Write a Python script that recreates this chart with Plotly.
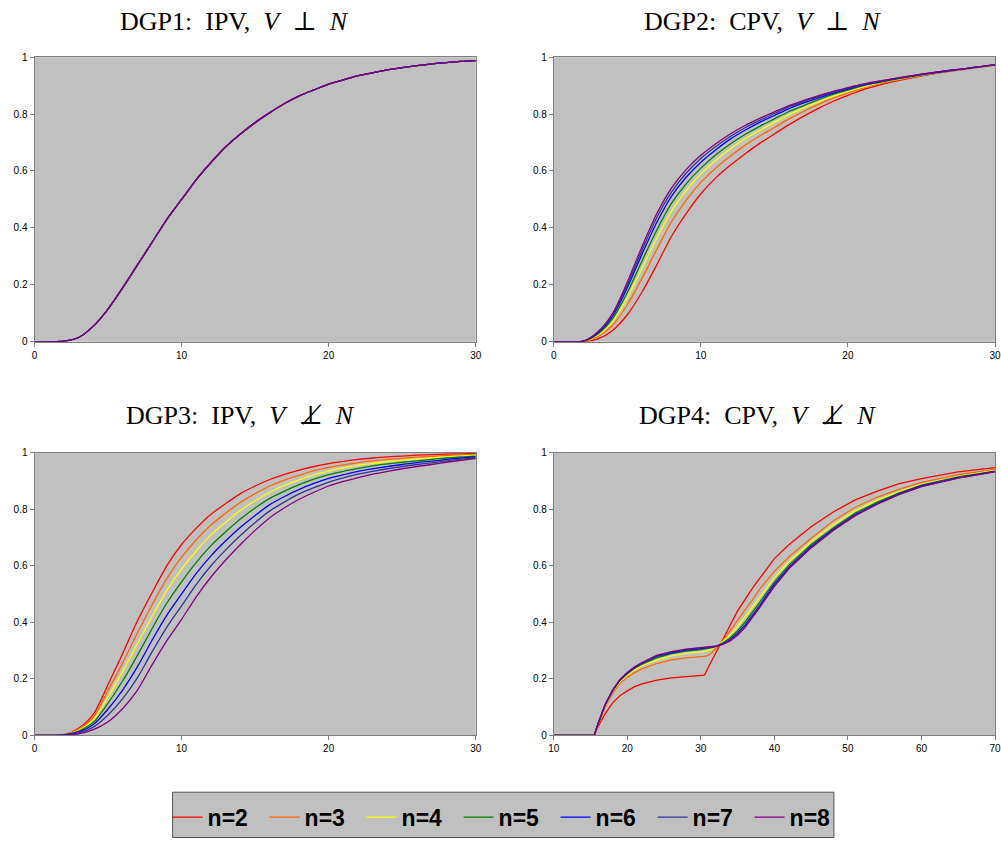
import plotly.graph_objects as go

labels = ["n=2", "n=3", "n=4", "n=5", "n=6", "n=7", "n=8"]
colors = ["#FF0000", "#FF6600", "#FFFF00", "#008000", "#0000FF", "#333399", "#800080"]

titles = [
    "DGP1:  IPV,  <i>V</i>  \u22A5  <i>N</i>",
    "DGP2:  CPV,  <i>V</i>  \u22A5  <i>N</i>",
    "DGP3:  IPV,  <i>V</i>  \u22A5\u0338  <i>N</i>",
    "DGP4:  CPV,  <i>V</i>  \u22A5\u0338  <i>N</i>",
]

# ---- x grid for DGP1-3 ----
x_grid = list(range(31))

# DGP1: all n identical
dgp1 = [0, 0, 0.002, 0.015, 0.055, 0.115, 0.19, 0.27, 0.35, 0.43, 0.5, 0.57, 0.63, 0.685, 0.73,
        0.77, 0.805, 0.837, 0.864, 0.885, 0.905, 0.92, 0.935, 0.945, 0.955, 0.963, 0.97, 0.976,
        0.981, 0.985, 0.988]

# DGP2
dgp2_n2 = [0, 0, 0, 0.01, 0.04, 0.095, 0.175, 0.27, 0.37, 0.45, 0.52, 0.575, 0.62, 0.66, 0.697, 0.73,
           0.763, 0.793, 0.82, 0.845, 0.866, 0.885, 0.9, 0.913, 0.924, 0.934, 0.943, 0.951, 0.958, 0.965, 0.972]
dgp2_n3 = [0, 0, 0.001, 0.018, 0.058, 0.13, 0.223, 0.324, 0.421, 0.497, 0.56, 0.61, 0.652, 0.69, 0.723, 0.753,
           0.783, 0.81, 0.834, 0.856, 0.874, 0.891, 0.905, 0.916, 0.926, 0.936, 0.944, 0.952, 0.959, 0.966, 0.972]
dgp2_n4 = [0, 0, 0.001, 0.023, 0.071, 0.155, 0.258, 0.364, 0.458, 0.531, 0.59, 0.637, 0.677, 0.713, 0.743, 0.771,
           0.798, 0.822, 0.843, 0.863, 0.88, 0.895, 0.908, 0.919, 0.928, 0.937, 0.945, 0.953, 0.959, 0.966, 0.972]
dgp2_n5 = [0, 0, 0.001, 0.027, 0.081, 0.173, 0.284, 0.392, 0.486, 0.555, 0.61, 0.656, 0.695, 0.728, 0.757, 0.783,
           0.809, 0.83, 0.851, 0.869, 0.884, 0.899, 0.91, 0.92, 0.929, 0.938, 0.946, 0.953, 0.959, 0.966, 0.972]
dgp2_n6 = [0, 0, 0.002, 0.031, 0.09, 0.19, 0.308, 0.419, 0.511, 0.578, 0.631, 0.674, 0.712, 0.743, 0.771, 0.795,
           0.819, 0.839, 0.857, 0.874, 0.888, 0.902, 0.912, 0.922, 0.931, 0.939, 0.946, 0.953, 0.96, 0.967, 0.973]
dgp2_n7 = [0, 0, 0.002, 0.033, 0.095, 0.2, 0.322, 0.436, 0.526, 0.592, 0.644, 0.685, 0.721, 0.752, 0.778, 0.802,
           0.825, 0.844, 0.861, 0.877, 0.891, 0.903, 0.914, 0.923, 0.931, 0.94, 0.947, 0.954, 0.96, 0.967, 0.973]
dgp2_n8 = [0, 0, 0.002, 0.035, 0.1, 0.21, 0.335, 0.45, 0.54, 0.605, 0.655, 0.695, 0.73, 0.76, 0.785, 0.808,
           0.83, 0.848, 0.865, 0.88, 0.893, 0.905, 0.915, 0.924, 0.932, 0.94, 0.947, 0.954, 0.96, 0.967, 0.973]

# DGP3
dgp3_n2 = [0, 0, 0.002, 0.025, 0.075, 0.18, 0.29, 0.405, 0.505, 0.6, 0.675, 0.733, 0.782, 0.82, 0.855, 0.882,
           0.905, 0.923, 0.938, 0.951, 0.961, 0.969, 0.976, 0.981, 0.985, 0.988, 0.991, 0.993, 0.995, 0.996, 0.997]
dgp3_n3 = [0, 0, 0.002, 0.022, 0.064, 0.158, 0.257, 0.363, 0.462, 0.555, 0.63, 0.692, 0.744, 0.786, 0.824, 0.855,
           0.882, 0.903, 0.92, 0.936, 0.948, 0.957, 0.965, 0.971, 0.976, 0.98, 0.984, 0.987, 0.99, 0.992, 0.994]
dgp3_n4 = [0, 0, 0.001, 0.018, 0.055, 0.136, 0.226, 0.324, 0.421, 0.513, 0.588, 0.653, 0.709, 0.754, 0.796, 0.83,
           0.86, 0.884, 0.904, 0.921, 0.935, 0.946, 0.955, 0.962, 0.968, 0.973, 0.978, 0.981, 0.985, 0.988, 0.991]
dgp3_n5 = [0, 0, 0.001, 0.015, 0.046, 0.114, 0.193, 0.283, 0.378, 0.468, 0.543, 0.612, 0.671, 0.72, 0.765, 0.804,
           0.838, 0.864, 0.887, 0.906, 0.922, 0.934, 0.944, 0.953, 0.96, 0.966, 0.971, 0.976, 0.981, 0.985, 0.988]
dgp3_n6 = [0, 0, 0.001, 0.012, 0.038, 0.093, 0.161, 0.243, 0.337, 0.425, 0.5, 0.573, 0.635, 0.688, 0.736, 0.778,
           0.816, 0.845, 0.87, 0.891, 0.909, 0.922, 0.934, 0.943, 0.951, 0.958, 0.965, 0.97, 0.976, 0.981, 0.985]
dgp3_n7 = [0, 0, 0, 0.009, 0.029, 0.072, 0.13, 0.204, 0.296, 0.383, 0.458, 0.534, 0.6, 0.656, 0.707, 0.753,
           0.794, 0.826, 0.854, 0.876, 0.896, 0.911, 0.924, 0.934, 0.943, 0.951, 0.958, 0.964, 0.971, 0.977, 0.982]
dgp3_n8 = [0, 0, 0, 0.005, 0.02, 0.048, 0.095, 0.16, 0.25, 0.335, 0.41, 0.49, 0.56, 0.62, 0.675, 0.725,
           0.77, 0.805, 0.835, 0.86, 0.882, 0.898, 0.912, 0.924, 0.934, 0.943, 0.951, 0.958, 0.966, 0.973, 0.979]

# DGP4
x4 = [10, 15.5, 16, 16.5, 17, 18, 19, 20, 21, 22,
      24, 26, 28, 30, 30.5, 31, 31.5, 32, 32.5, 33,
      34, 35, 36, 37, 38, 40, 42, 45, 48, 51,
      54, 57, 60, 65, 70]
dgp4_n2 = [0, 0, 0.03, 0.055, 0.077, 0.115, 0.14, 0.157, 0.172, 0.182,
           0.195, 0.203, 0.208, 0.212, 0.213, 0.24, 0.266, 0.293, 0.319, 0.34,
           0.39, 0.44, 0.48, 0.52, 0.555, 0.625, 0.675, 0.738, 0.79, 0.833,
           0.864, 0.89, 0.908, 0.932, 0.947]
dgp4_n3 = [0, 0, 0.035, 0.068, 0.1, 0.148, 0.184, 0.205, 0.222, 0.235,
           0.254, 0.267, 0.274, 0.278, 0.279, 0.283, 0.292, 0.306, 0.32, 0.336,
           0.37, 0.408, 0.444, 0.478, 0.517, 0.58, 0.632, 0.697, 0.758, 0.807,
           0.843, 0.871, 0.895, 0.922, 0.941]
dgp4_n4 = [0, 0, 0.038, 0.074, 0.106, 0.155, 0.19, 0.213, 0.232, 0.246,
           0.266, 0.281, 0.29, 0.295, 0.297, 0.3, 0.306, 0.313, 0.322, 0.332,
           0.355, 0.385, 0.418, 0.452, 0.488, 0.558, 0.615, 0.685, 0.745, 0.795,
           0.832, 0.862, 0.888, 0.916, 0.937]
dgp4_n5 = [0, 0, 0.039, 0.076, 0.108, 0.157, 0.194, 0.218, 0.237, 0.252,
           0.274, 0.289, 0.298, 0.303, 0.305, 0.307, 0.31, 0.314, 0.32, 0.327,
           0.345, 0.37, 0.4, 0.434, 0.47, 0.543, 0.603, 0.675, 0.733, 0.786,
           0.825, 0.858, 0.885, 0.914, 0.935]
dgp4_n6 = [0, 0, 0.04, 0.077, 0.109, 0.158, 0.196, 0.22, 0.24, 0.255,
           0.279, 0.292, 0.301, 0.307, 0.308, 0.31, 0.312, 0.315, 0.319, 0.324,
           0.34, 0.362, 0.39, 0.424, 0.46, 0.535, 0.596, 0.669, 0.729, 0.781,
           0.821, 0.855, 0.883, 0.912, 0.934]
dgp4_n7 = [0, 0, 0.04, 0.078, 0.11, 0.159, 0.197, 0.221, 0.241, 0.256,
           0.281, 0.294, 0.303, 0.309, 0.31, 0.311, 0.313, 0.315, 0.318, 0.323,
           0.337, 0.358, 0.386, 0.42, 0.456, 0.53, 0.593, 0.666, 0.727, 0.779,
           0.82, 0.853, 0.881, 0.911, 0.933]
dgp4_n8 = [0, 0, 0.04, 0.078, 0.11, 0.16, 0.198, 0.222, 0.242, 0.257,
           0.283, 0.296, 0.305, 0.31, 0.311, 0.312, 0.313, 0.315, 0.318, 0.322,
           0.334, 0.354, 0.381, 0.415, 0.452, 0.527, 0.59, 0.663, 0.725, 0.777,
           0.818, 0.852, 0.88, 0.91, 0.932]

panels = [
    (x_grid, [dgp1] * 7, "spline"),
    (x_grid, [dgp2_n2, dgp2_n3, dgp2_n4, dgp2_n5, dgp2_n6, dgp2_n7, dgp2_n8], "spline"),
    (x_grid, [dgp3_n2, dgp3_n3, dgp3_n4, dgp3_n5, dgp3_n6, dgp3_n7, dgp3_n8], "spline"),
    (x4, [dgp4_n2, dgp4_n3, dgp4_n4, dgp4_n5, dgp4_n6, dgp4_n7, dgp4_n8], "linear"),
]

W, H = 1001, 844
# the page photo shows the figure slightly shrunk and offset; compensate
SX, OX, SY, OY = 0.9875, 5.5, 0.987, 5.8


def fx(p):  # target screen px -> paper fraction
    return min(max((p - OX) / SX / W, 0), 1)


def fy(p):
    return min(max(1 - (p - OY) / SY / H, 0), 1)


# plot-area target pixel boxes: (left, right, top, bottom)
boxes = [(34, 475, 57, 342), (553, 994, 57, 342), (34, 475, 453, 736), (553, 994, 453, 736)]
xranges = [[0, 30], [0, 30], [0, 30], [10, 70]]
title_pos = [(234, 21), (762, 21), (240, 416), (757, 416)]

fig = go.Figure()
for p, (xs, series, shape) in enumerate(panels):
    xa = "x" if p == 0 else f"x{p+1}"
    ya = "y" if p == 0 else f"y{p+1}"
    for i, ys in enumerate(series):
        fig.add_trace(go.Scatter(
            x=xs, y=ys, mode="lines", name=labels[i], legendgroup=labels[i],
            showlegend=(p == 0),
            line=dict(color=colors[i], width=1.3, shape=shape,
                      smoothing=0.8 if shape == "spline" else None),
            xaxis=xa, yaxis=ya, hoverinfo="skip"))

tickfont = dict(family="Liberation Sans, Arial, sans-serif", size=10, color="#000000")
layout = dict(
    width=W, height=H, margin=dict(l=0, r=0, t=0, b=0),
    paper_bgcolor="white", plot_bgcolor="#C0C0C0",
    showlegend=True,
    legend=dict(orientation="h", x=fx(167), xanchor="left",
                y=fy(818), yanchor="middle",
                bgcolor="rgba(0,0,0,0)", borderwidth=0,
                font=dict(family="Liberation Sans, Arial, sans-serif", size=23,
                          color="#000000", weight="bold"),
                itemwidth=30, tracegroupgap=0,
                entrywidth=52, entrywidthmode="pixels"),
)
for p, (l, r, t, b) in enumerate(boxes):
    sx = "" if p == 0 else str(p + 1)
    layout["xaxis" + sx] = dict(
        domain=[fx(l), fx(r)], range=xranges[p], dtick=10, tick0=0,
        anchor="y" + sx, showgrid=False, zeroline=False, showline=True,
        linecolor="#808080", linewidth=1, mirror=True, ticks="outside", ticklen=4,
        tickcolor="#808080", tickfont=tickfont, fixedrange=True,
        ticklabeloverflow="allow")
    layout["yaxis" + sx] = dict(
        domain=[fy(b), fy(t)], range=[0, 1], dtick=0.2, tick0=0,
        anchor="x" + sx, showgrid=False, zeroline=False, showline=True,
        linecolor="#808080", linewidth=1, mirror=True, ticks="outside", ticklen=4,
        tickcolor="#808080", tickfont=tickfont, fixedrange=True)

annotations = []
for p, (cx, cy) in enumerate(title_pos):
    annotations.append(dict(
        text=titles[p], x=fx(cx), y=fy(cy), xref="paper", yref="paper",
        xanchor="center", yanchor="middle", showarrow=False,
        font=dict(family="Liberation Serif, DejaVu Serif, serif", size=26, color="#000000")))
layout["annotations"] = annotations
layout["shapes"] = [dict(type="rect", xref="paper", yref="paper",
                         x0=fx(172), x1=fx(833), y0=max(fy(843), 0.5 / H), y1=fy(793),
                         fillcolor="#C0C0C0", line=dict(color="#555555", width=1), layer="below")]
fig.update_layout(**layout)
post = (
    "document.body.style.margin='0px';document.body.style.overflow='hidden';"
    "document.querySelectorAll('svg.main-svg').forEach(function(s){s.style.overflow='visible';});"
)
fig.write_html("out.html", config={"displayModeBar": False}, post_script=post)
